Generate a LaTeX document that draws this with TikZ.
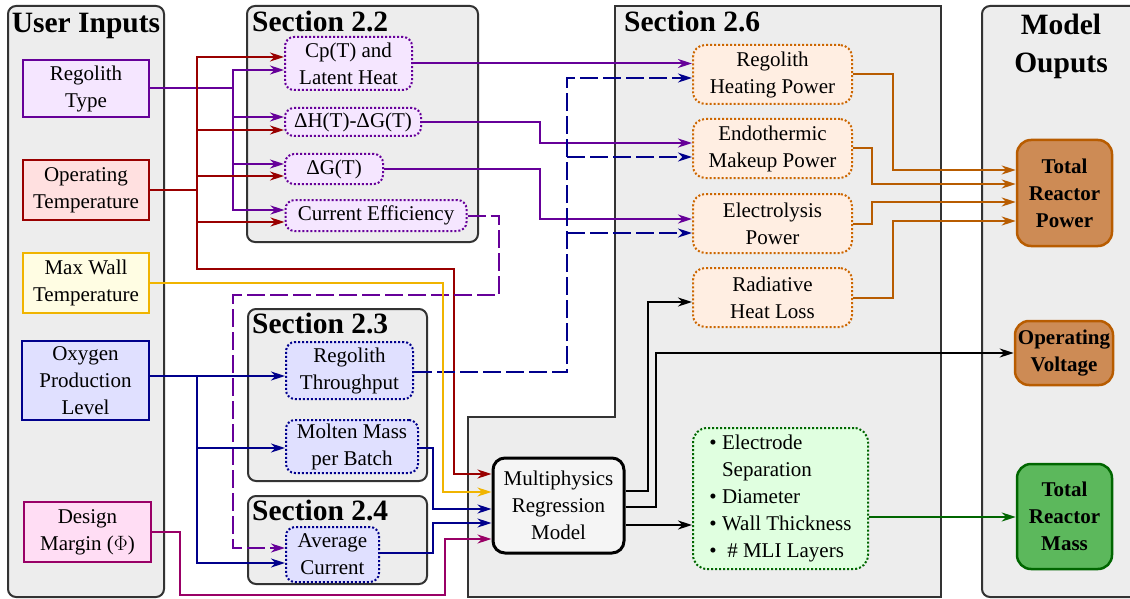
\documentclass[tikz,border=0pt]{standalone}
\usepackage{fontspec}
\setmainfont{Liberation Serif}
\usetikzlibrary{arrows.meta}
\definecolor{cgray}{HTML}{EDEDED}
\definecolor{cborder}{HTML}{333333}
\definecolor{cpurp}{HTML}{660099}
\definecolor{cpurpf}{HTML}{F5E6FF}
\definecolor{cred}{HTML}{990000}
\definecolor{credf}{HTML}{FFE0E0}
\definecolor{cgold}{HTML}{F0B400}
\definecolor{cgoldf}{HTML}{FFFDE3}
\definecolor{cnavy}{HTML}{00008C}
\definecolor{cnavyf}{HTML}{E0E0FF}
\definecolor{cmag}{HTML}{990066}
\definecolor{cmagf}{HTML}{FFDDF4}
\definecolor{corg}{HTML}{B85C00}
\definecolor{corgdot}{HTML}{CC6600}
\definecolor{corgf}{HTML}{FFEEE2}
\definecolor{corgbox}{HTML}{CD8B55}
\definecolor{cgrn}{HTML}{006600}
\definecolor{cgrnf}{HTML}{E0FFE0}
\definecolor{cgrnbox}{HTML}{5CB85C}
\definecolor{cmpf}{HTML}{F5F5F5}
\begin{document}
\begin{tikzpicture}[x=1pt,y=-1pt,
  txt/.style={font=\fontsize{21}{27}\selectfont, align=center, inner sep=0pt, text=black},
  inbox/.style={txt, draw, line width=2.5pt, rectangle},
  dotbox/.style={txt, draw, line width=2pt, dotted, rounded corners=9pt},
  outbox/.style={txt, font=\bfseries\fontsize{21}{27}\selectfont, draw, line width=2.5pt, rounded corners=14pt},
  cont/.style={draw=cborder, fill=cgray, line width=2pt, rounded corners=8pt, inner sep=0pt},
  ttl/.style={font=\bfseries\fontsize{29.5}{38}\selectfont, inner sep=0pt, align=center},
  conn/.style={line width=2pt, -{Stealth[length=14pt,width=9pt,inset=4.5pt]}},
  dsh/.style={dash pattern=on 18pt off 5pt}
]
\clip (0,0) rectangle (1130,599);
% containers
\node[cont, minimum width=156pt, minimum height=591pt] (userin) at (86,301.5) {};
\node[cont, minimum width=160pt, minimum height=591pt] (outs) at (1062,301.5) {};
\node[cont, minimum width=231pt, minimum height=236pt] (sec22) at (362.5,124) {};
\node[cont, minimum width=179pt, minimum height=172pt] (sec23) at (337.5,395) {};
\node[cont, minimum width=179pt, minimum height=88pt] (sec24) at (337.5,540) {};
\draw[draw=cborder, fill=cgray, line width=2pt] (615,6) -- (941,6) -- (941,597) -- (468,597) -- (468,417) -- (615,417) -- cycle;
% titles
\node[ttl, anchor=base] (tui) at (86,33) {User Inputs};
\node[ttl, anchor=north] (tmo) at (1061,13.5) {Model\\Ouputs};
\node[ttl, anchor=base west] (t22) at (252,32) {Section 2.2};
\node[ttl, anchor=base west] (t23) at (252,333) {Section 2.3};
\node[ttl, anchor=base west] (t24) at (252,520) {Section 2.4};
\node[ttl, anchor=base west] (t26) at (624,32) {Section 2.6};
% inputs
\node[inbox, draw=cpurp, fill=cpurpf, minimum width=126pt, minimum height=57pt] (regtype) at (86,88.5) {Regolith\\Type};
\node[inbox, draw=cred, fill=credf, minimum width=126pt, minimum height=60pt] (optemp) at (86,190) {Operating\\Temperature};
\node[inbox, draw=cgold, fill=cgoldf, minimum width=126pt, minimum height=60pt] (maxwall) at (86,283) {Max Wall\\Temperature};
\node[inbox, draw=cnavy, fill=cnavyf, minimum width=127pt, minimum height=79pt] (oxygen) at (85.5,380.5) {Oxygen\\Production\\Level};
\node[inbox, draw=cmag, fill=cmagf, minimum width=127pt, minimum height=60pt] (design) at (87.5,532) {Design\\Margin ($\Phi$)};
% section 2.2
\node[dotbox, draw=cpurp, fill=cpurpf, minimum width=127pt, minimum height=53pt] (cp) at (348.5,63.5) {Cp(T) and\\Latent Heat};
\node[dotbox, draw=cpurp, fill=cpurpf, minimum width=136pt, minimum height=28pt] (dhdg) at (353,122) {ΔH(T)-ΔG(T)};
\node[dotbox, draw=cpurp, fill=cpurpf, minimum width=98pt, minimum height=30pt] (dg) at (334,169) {ΔG(T)};
\node[dotbox, draw=cpurp, fill=cpurpf, minimum width=181pt, minimum height=31pt] (ce) at (376,215.5) {Current Efficiency};
% section 2.3 / 2.4
\node[dotbox, draw=cnavy, fill=cnavyf, minimum width=127pt, minimum height=57pt] (rthru) at (349.5,370.5) {Regolith\\Throughput};
\node[dotbox, draw=cnavy, fill=cnavyf, minimum width=132pt, minimum height=53pt] (molten) at (352,446.5) {Molten Mass\\per Batch};
\node[dotbox, draw=cnavy, fill=cnavyf, minimum width=93pt, minimum height=55pt] (avgcur) at (332.5,554.5) {Average\\Current};
% section 2.6
\node[dotbox, draw=corgdot, fill=corgf, minimum width=159pt, minimum height=59pt, rounded corners=12pt] (rhp) at (772.5,74.5) {Regolith\\Heating Power};
\node[dotbox, draw=corgdot, fill=corgf, minimum width=159pt, minimum height=59pt, rounded corners=12pt] (emp) at (772.5,148.5) {Endothermic\\Makeup Power};
\node[dotbox, draw=corgdot, fill=corgf, minimum width=159pt, minimum height=59pt, rounded corners=12pt] (ep) at (772.5,223.5) {Electrolysis\\Power};
\node[dotbox, draw=corgdot, fill=corgf, minimum width=159pt, minimum height=59pt, rounded corners=12pt] (rhl) at (772.5,297.5) {Radiative\\Heat Loss};
\node[txt, draw=black, fill=cmpf, line width=3pt, rounded corners=12pt, minimum width=131pt, minimum height=95pt] (mp) at (558.5,505.5) {Multiphysics\\Regression\\Model};
\node[dotbox, draw=cgrn, fill=cgrnf, minimum width=175pt, minimum height=141pt, rounded corners=14pt, align=left] (bul) at (780.5,498.5) {\textbullet\ Electrode\\\phantom{\textbullet}\ Separation\\\textbullet\ Diameter\\\textbullet\ Wall Thickness\\\textbullet\ \ \# MLI Layers};
% outputs
\node[outbox, draw=corg, fill=corgbox, minimum width=95pt, minimum height=106pt] (trp) at (1064.5,193) {Total\\Reactor\\Power};
\node[outbox, draw=corg, fill=corgbox, minimum width=98pt, minimum height=64pt] (ov) at (1064,353) {Operating\\Voltage};
\node[outbox, draw=cgrn, fill=cgrnbox, minimum width=95pt, minimum height=105pt] (trm) at (1064.5,516.5) {Total\\Reactor\\Mass};
% connectors: regolith type (purple)
\draw[conn, cpurp] (regtype.east) -| (233,70) -- (cp.west |- 0,70);
\draw[conn, cpurp] (regtype.east) -| (233,210) -- (ce.west |- 0,210);
\draw[conn, cpurp] (233,117) -- (dhdg.west |- 0,117);
\draw[conn, cpurp] (233,164) -- (dg.west |- 0,164);
% operating temperature (red)
\draw[conn, cred] (optemp.east) -| (197,57) -- (cp.west |- 0,57);
\draw[conn, cred] (197,130) -- (dhdg.west |- 0,130);
\draw[conn, cred] (197,176) -- (dg.west |- 0,176);
\draw[conn, cred] (197,222) -- (ce.west |- 0,222);
\draw[conn, cred] (optemp.east) -| (197,269) -| (454,474) -- (mp.west |- 0,474);
% section 2.2 outputs
\draw[conn, cpurp] (cp.east) -- (rhp.west |- cp.east);
\draw[conn, cpurp] (dhdg.east) -| (540,143) -- (emp.west |- 0,143);
\draw[conn, cpurp] (dg.east) -| (540,219) -- (ep.west |- 0,219);
\draw[conn, cpurp, dsh] (ce.east) -| (499,295) -| (233,548) -- (avgcur.west |- 0,548);
% regolith throughput (dashed navy)
\draw[conn, cnavy, dsh] (rthru.east |- 0,372) -| (567,78) -- (rhp.west |- 0,78);
\draw[conn, cnavy, dsh] (567,157) -- (emp.west |- 0,157);
\draw[conn, cnavy, dsh] (567,233) -- (ep.west |- 0,233);
% oxygen (navy)
\draw[conn, cnavy] (oxygen.east |- 0,376) -- (rthru.west |- 0,376);
\draw[conn, cnavy] (197,376) |- (molten.west |- 0,448);
\draw[conn, cnavy] (197,376) |- (avgcur.west |- 0,563);
\draw[conn, cnavy] (molten.east |- 0,448) -| (433,509) -- (mp.west |- 0,509);
\draw[conn, cnavy] (avgcur.east |- 0,553) -| (433,523) -- (mp.west |- 0,523);
% max wall (gold)
\draw[conn, cgold] (maxwall.east) -| (443,492) -- (mp.west |- 0,492);
% design margin
\draw[conn, cmag] (design.east) -| (180,595) -| (445,539) -- (mp.west |- 0,539);
% model outputs (black)
\draw[conn, black] (mp.east |- 0,491) -| (648,302) -- (rhl.west |- 0,302);
\draw[conn, black] (mp.east |- 0,507) -| (656,353) -- (ov.west);
\draw[conn, black] (mp.east |- 0,525) -- (bul.west |- 0,525);
% mass
\draw[conn, cgrn] (bul.east |- 0,517) -- (trm.west |- 0,517);
% power
\draw[conn, corg] (rhp.east) -| (893,170) -- (trp.west |- 0,170);
\draw[conn, corg] (emp.east) -| (872,184) -- (trp.west |- 0,184);
\draw[conn, corg] (ep.east) -| (872,202) -- (trp.west |- 0,202);
\draw[conn, corg] (rhl.east) -| (893,221) -- (trp.west |- 0,221);
\end{tikzpicture}
\end{document}
